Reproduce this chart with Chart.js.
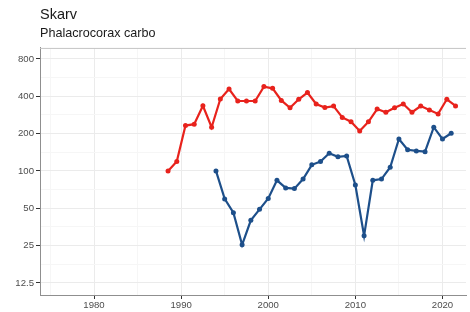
<!DOCTYPE html>
<html>
<head>
<meta charset="utf-8">
<script src="https://cdn.jsdelivr.net/npm/chart.js@4.4.1/dist/chart.umd.min.js"></script>
<style>
  html, body { margin: 0; padding: 0; background: #fff; }
  #wrap { width: 470px; height: 312px; }
</style>
</head>
<body>
<div id="wrap"><canvas id="Chart" width="470" height="312"></canvas></div>
<script>
// red series is a winter count, drawn half a year later than the year it starts
const redYears = [1988, 1989, 1990, 1991, 1992, 1993, 1994, 1995, 1996, 1997, 1998, 1999, 2000, 2001, 2002, 2003, 2004,
  2005, 2006, 2007, 2008, 2009, 2010, 2011, 2012, 2013, 2014, 2015, 2016, 2017, 2018, 2019, 2020, 2021];
const redValues = [100, 119, 232, 238, 335, 225, 380, 457, 366, 366, 366, 478, 463, 370, 323, 378, 428,
  346, 324, 333, 270, 249, 210, 249, 315, 297, 323, 346, 297, 333, 310, 288, 378, 334];

const blueYears = [1994, 1995, 1996, 1997, 1998, 1999, 2000, 2001, 2002, 2003, 2004, 2005, 2006, 2007,
  2008, 2009, 2010, 2011, 2012, 2013, 2014, 2015, 2016, 2017, 2018, 2019, 2020, 2021];
const blueValues = [100, 59.5, 46, 25.4, 40, 49, 60, 84, 73, 72, 86, 112, 119, 139,
  130, 132, 77, 30, 84, 86, 107, 181, 148, 145, 143, 225, 181, 201];

const xTicks = [1980, 1990, 2000, 2010, 2020];
const xMinor = [1975, 1985, 1995, 2005, 2015];
const yTicks = [12.5, 25, 50, 100, 200, 400, 800];

const RED = "#e8221c";
const BLUE = "#1d4f8a";

// minor grid for the log axis sits halfway (in log space) between breaks
const yMinor = yTicks.slice(1).map((v, i) => Math.sqrt(v * yTicks[i]));

const topBorder = {
  id: "topBorder",
  afterDraw(chart) {
    const { ctx, chartArea } = chart;
    ctx.save();
    ctx.strokeStyle = "#c4c4c4";
    ctx.lineWidth = 1;
    ctx.beginPath();
    ctx.moveTo(chartArea.left, chartArea.top + 0.5);
    ctx.lineTo(chartArea.right, chartArea.top + 0.5);
    ctx.stroke();
    ctx.restore();
  },
};

Chart.defaults.font.family = "'Liberation Sans', Arial, sans-serif";

new Chart(document.getElementById("Chart"), {
  type: "line",
  data: {
    datasets: [
      {
        label: "red",
        data: redYears.map((y, i) => ({ x: y + 0.5, y: redValues[i] })),
        borderColor: RED,
        backgroundColor: RED,
        borderWidth: 2.2,
        pointRadius: 2.5,
        pointBorderWidth: 0,
        tension: 0,
      },
      {
        label: "blue",
        data: blueYears.map((y, i) => ({ x: y, y: blueValues[i] })),
        borderColor: BLUE,
        backgroundColor: BLUE,
        borderWidth: 2.2,
        pointRadius: 2.5,
        pointBorderWidth: 0,
        tension: 0,
      },
    ],
  },
  options: {
    responsive: false,
    animation: false,
    devicePixelRatio: 1,
    layout: { padding: 0 },
    plugins: {
      legend: { display: false },
      tooltip: { enabled: false },
      title: {
        display: true,
        text: "Skarv",
        align: "start",
        fullSize: false,
        color: "#1a1a1a",
        font: { size: 14.5, weight: "normal", lineHeight: 1.2 },
        padding: { top: 6.3, bottom: 0 },
      },
      subtitle: {
        display: true,
        text: "Phalacrocorax carbo",
        align: "start",
        fullSize: false,
        color: "#1a1a1a",
        font: { size: 12.6, lineHeight: 1.2 },
        padding: { top: 2.5, bottom: 6.6 },
      },
    },
    scales: {
      x: {
        type: "linear",
        min: 1973.8,
        max: 2022.7,
        afterBuildTicks: (scale) => {
          scale.ticks = [...xMinor, ...xTicks].sort((a, b) => a - b).map((v) => ({ value: v }));
        },
        afterFit: (scale) => {
          scale.height = 17;
        },
        ticks: {
          autoSkip: false,
          maxRotation: 0,
          padding: 1,
          color: "#4d4d4d",
          font: { size: 9.6 },
          callback: (v) => (xTicks.includes(v) ? String(v) : ""),
        },
        grid: {
          color: (c) => (xTicks.includes(c.tick.value) ? "#ebebeb" : "#f6f6f6"),
          tickColor: (c) => (xTicks.includes(c.tick.value) ? "#333333" : "rgba(0,0,0,0)"),
          tickLength: 4,
        },
        border: { display: true, color: "#8f8f8f", width: 1 },
      },
      y: {
        type: "logarithmic",
        min: 10,
        max: 980,
        afterBuildTicks: (scale) => {
          scale.ticks = [...yMinor, ...yTicks].sort((a, b) => a - b).map((v) => ({ value: v }));
        },
        afterFit: (scale) => {
          scale.width = 40;
        },
        ticks: {
          autoSkip: false,
          padding: 2,
          color: "#4d4d4d",
          font: { size: 9.6 },
          callback: (v) => (yTicks.includes(v) ? String(v) : ""),
        },
        grid: {
          color: (c) => (yTicks.includes(c.tick.value) ? "#ebebeb" : "#f6f6f6"),
          tickColor: (c) => (yTicks.includes(c.tick.value) ? "#333333" : "rgba(0,0,0,0)"),
          tickLength: 4,
        },
        border: { display: true, color: "#8f8f8f", width: 1 },
      },
    },
  },
  plugins: [topBorder],
});
</script>
</body>
</html>
